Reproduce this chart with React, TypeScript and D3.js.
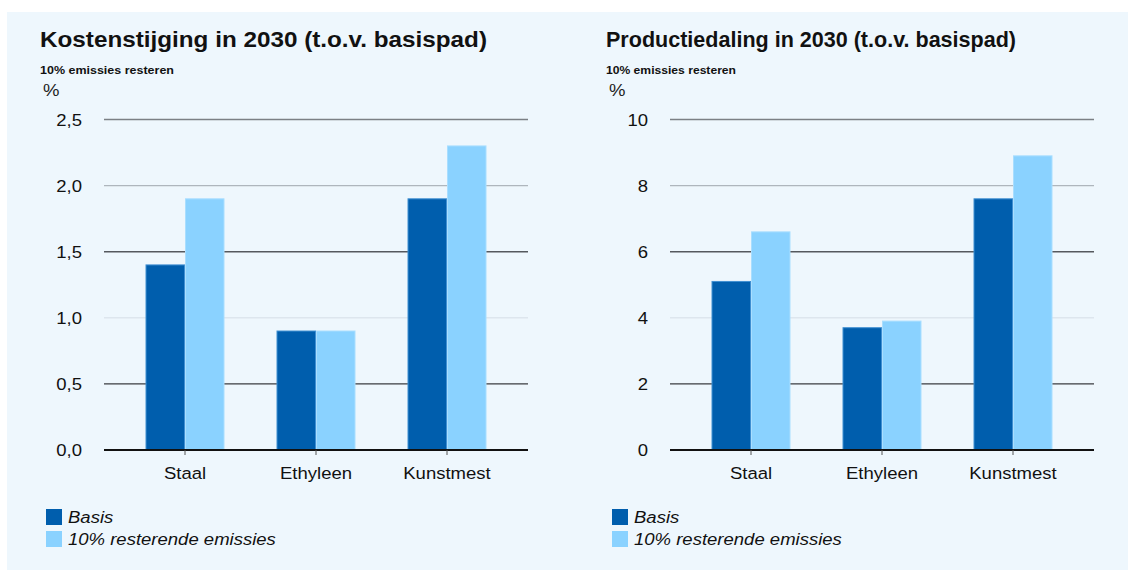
import React from "react";
import * as d3 from "d3";

const categories = ["Staal", "Ethyleen", "Kunstmest"];
const seriesNames = ["Basis", "10% resterende emissies"];

const costBasis = [1.4, 0.9, 1.9];
const costRest = [1.9, 0.9, 2.3];
const costTicks = [0, 0.5, 1.0, 1.5, 2.0, 2.5];

const prodBasis = [5.1, 3.7, 7.6];
const prodRest = [6.6, 3.9, 8.9];
const prodTicks = [0, 2, 4, 6, 8, 10];

const titles = [
  "Kostenstijging in 2030 (t.o.v. basispad)",
  "Productiedaling in 2030 (t.o.v. basispad)",
];
const subtitle = "10% emissies resteren";
const unit = "%";

const COLORS = ["#005EAD", "#8AD2FF"];
const STROKES = ["#3F8FD2", "#A9DEFF"];
// gridline colours from bottom (0) to top
const GRID_COLORS = ["#111111", "#3a3d40", "#dde6ee", "#55595e", "#aeb6bd", "#7b8085"];
const FONT = "'Liberation Sans', Arial, Helvetica, sans-serif";
const SX = 1.09;

function SText({ x, y, sx = SX, children, ...rest }: any) {
  return (
    <g transform={`translate(${x},${y}) scale(${sx},1)`}>
      <text x={0} y={0} {...rest}>
        {children}
      </text>
    </g>
  );
}

type PanelProps = {
  dx: number;
  title: string;
  titleLen: number;
  subLen: number;
  basis: number[];
  rest: number[];
  ticks: number[];
  fmt: (v: number) => string;
  domainMax: number;
};

function Panel({ dx, title, titleLen, subLen, basis, rest, ticks, fmt, domainMax }: PanelProps) {
  const gx0 = 104 + dx;
  const gx1 = 528 + dx;
  const y = d3.scaleLinear().domain([0, domainMax]).range([450, 119.5]);
  const x = d3
    .scaleBand<string>()
    .domain(categories)
    .range([119.5 + dx, 512.5 + dx])
    .paddingInner(0.397)
    .paddingOuter(0.1985);
  const xs = d3.scaleBand<number>().domain([0, 1]).range([0, x.bandwidth()]);
  const data = [basis, rest];
  return (
    <g fontFamily={FONT}>
      <text x={40 + dx} y={47} fontSize={21.5} fontWeight="bold" fill="#111" textLength={titleLen} lengthAdjust="spacingAndGlyphs">
        {title}
      </text>
      <text x={40 + dx} y={74} fontSize={11} fontWeight="bold" fill="#111" textLength={subLen} lengthAdjust="spacingAndGlyphs">
        {subtitle}
      </text>
      <SText x={43 + dx} y={96} fontSize={17} fill="#222">
        {unit}
      </SText>
      {ticks.map((t, i) =>
        i === 0 ? null : (
          <line key={"g" + i} x1={gx0} x2={gx1} y1={y(t)} y2={y(t)} stroke={GRID_COLORS[i]} strokeWidth={1.4} />
        )
      )}
      {ticks.map((t, i) => (
        <SText key={"t" + i} x={82 + dx} y={y(t) + 6} fontSize={17} textAnchor="end" fill="#111">
          {fmt(t)}
        </SText>
      ))}
      {categories.map((c, ci) =>
        data.map((s, si) => (
          <rect
            key={c + si}
            x={(x(c) as number) + (xs(si) as number) + 0.5}
            y={y(s[ci])}
            width={xs.bandwidth() - 1}
            height={y(0) - y(s[ci])}
            fill={COLORS[si]}
            stroke={STROKES[si]}
            strokeWidth={1}
          />
        ))
      )}
      <line x1={gx0} x2={gx1} y1={y(0)} y2={y(0)} stroke={GRID_COLORS[0]} strokeWidth={2} />
      {categories.map((c) => {
        const cx = (x(c) as number) + x.bandwidth() / 2;
        return (
          <g key={"x" + c}>
            <line x1={cx} x2={cx} y1={y(0)} y2={y(0) + 5} stroke="#555" strokeWidth={1} />
            <SText x={cx} y={479} fontSize={17} textAnchor="middle" fill="#111">
              {c}
            </SText>
          </g>
        );
      })}
      {seriesNames.map((n, i) => (
        <g key={"l" + i}>
          <rect x={46 + dx} y={509 + i * 22} width={16} height={16} fill={COLORS[i]} />
          <SText x={68 + dx} y={523 + i * 22} fontSize={17} fontStyle="italic" fill="#111">
            {n}
          </SText>
        </g>
      ))}
    </g>
  );
}

export default function App() {
  const fmtCost = (v: number) => d3.format(".1f")(v).replace(".", ",");
  const fmtProd = (v: number) => d3.format("d")(v);
  return (
    <svg width={1129} height={570} style={{ position: "absolute", left: 0, top: 0 }}>
      <rect x={0} y={0} width={1129} height={570} fill="#ffffff" />
      <rect x={7} y={12} width={1121} height={558} fill="#EEF7FD" />
      <Panel dx={0} title={titles[0]} titleLen={447} subLen={134} basis={costBasis} rest={costRest} ticks={costTicks} fmt={fmtCost} domainMax={2.5} />
      <Panel dx={566} title={titles[1]} titleLen={410} subLen={130} basis={prodBasis} rest={prodRest} ticks={prodTicks} fmt={fmtProd} domainMax={10} />
    </svg>
  );
}
